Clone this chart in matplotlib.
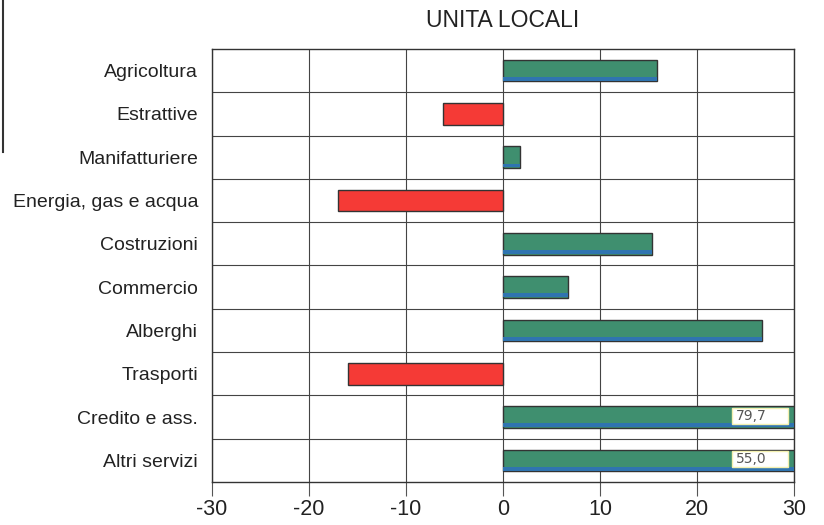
import matplotlib.pyplot as plt
from matplotlib.patches import Rectangle
import numpy as np

# data
categorie = ['Agricoltura', 'Estrattive', 'Manifatturiere', 'Energia, gas e acqua',
             'Costruzioni', 'Commercio', 'Alberghi', 'Trasporti',
             'Credito e ass.', 'Altri servizi']
valori = [15.9, -6.2, 1.8, -17.0, 15.4, 6.7, 26.7, -16.0, 79.7, 55.0]
etichette_fuori = ['79,7', '55,0']
xmax = 30

green = '#3f8f6f'
blue = '#2f74b0'
red = '#f53a36'

fig = plt.figure(figsize=(8.24, 5.25), dpi=100)
ax = fig.add_axes([0.2573, 0.0819, 0.7063, 0.8248])

y = np.arange(len(categorie))
shown = np.clip(valori, -xmax, xmax)
colors = [green if v > 0 else red for v in valori]

ax.barh(y, shown, height=0.5, color=colors, edgecolor='#333333', linewidth=1.0, zorder=3)
# blue strip on bottom of green bars
pos = np.array(valori) > 0
ax.barh(y[pos] + 0.19, shown[pos], height=0.09, color=blue, linewidth=0, zorder=4)

# values of bars that go beyond the scale
k = 0
for yi, v in zip(y, valori):
    if v > xmax:
        ax.add_patch(Rectangle((23.6, yi - 0.22), 5.8, 0.38, facecolor='white',
                               edgecolor='#f3f0b0', linewidth=1.0, zorder=5))
        ax.text(24.0, yi - 0.03, etichette_fuori[k], fontsize=10, color='#555555',
                va='center', ha='left', zorder=6)
        k += 1

ax.set_xlim(-30, 30)
ax.set_ylim(len(categorie) - 0.5, -0.5)
ax.set_xticks(np.arange(-30, 31, 10))
ax.set_xticklabels([str(t) for t in range(-30, 31, 10)], fontsize=15.5,
                   family=['Liberation Sans', 'DejaVu Sans'], color='#222222')
ax.set_yticks(y)
ax.set_yticklabels(categorie, fontsize=14,
                   family=['Liberation Sans Narrow', 'Liberation Sans', 'DejaVu Sans'],
                   color='#222222')
ax.set_yticks(np.arange(0.5, len(categorie) - 1, 1), minor=True)
ax.tick_params(axis='y', which='both', length=0, pad=10)
ax.tick_params(axis='x', length=10, width=0.8, color='#555555', pad=2)

ax.grid(axis='x', which='major', color='#444444', linewidth=0.8, zorder=0)
ax.grid(axis='y', which='minor', color='#444444', linewidth=0.8, zorder=0)

for s in ax.spines.values():
    s.set_color('#333333')
    s.set_linewidth(1.0)

ax.set_title('UNITA LOCALI', fontsize=16.5, family=['Liberation Sans', 'DejaVu Sans'],
             color='#222222', pad=16)

# vertical line on the left edge of the page
fig.add_artist(plt.Line2D([0.004, 0.004], [0.71, 1.0], color='#333333', linewidth=1.5))

fig.savefig('out.png', dpi=100)
